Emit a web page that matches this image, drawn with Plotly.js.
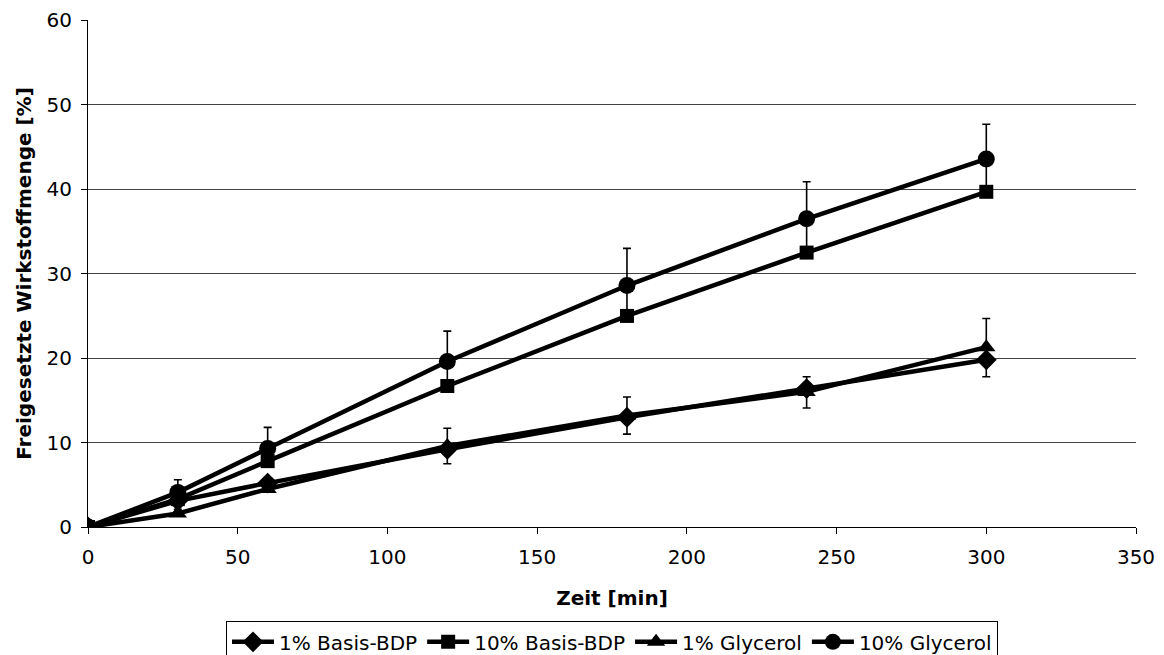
<!DOCTYPE html>
<html>
<head>
<meta charset="utf-8">
<script src="https://cdn.plot.ly/plotly-3.0.1.min.js"></script>
<style>html,body{margin:0;padding:0;background:#fff;}#chart{width:1164px;height:655px;}</style>
</head>
<body>
<div id="chart"></div>
<script>
// Data
const zeit = [0, 30, 60, 120, 180, 240, 300];
const seriesNames = ["1% Basis-BDP", "10% Basis-BDP", "1% Glycerol", "10% Glycerol"];
const basis1 = [0, 3.1, 5.2, 9.2, 13.0, 16.4, 19.8];
const basis1ErrMinus = [0, 0.5, 0.6, 1.7, 2.0, 2.3, 2.0];
const basis10 = [0, 3.3, 7.8, 16.7, 25.0, 32.5, 39.7];
const basis10ErrPlus = [0, 0.8, 1.5, 2.9, 3.6, 4.0, 3.9];
const glycerol1 = [0, 1.6, 4.5, 9.6, 13.2, 16.0, 21.3];
const glycerol1ErrPlus = [0, 0.5, 0.6, 2.1, 2.2, 1.8, 3.4];
const glycerol10 = [0, 4.1, 9.3, 19.6, 28.6, 36.5, 43.6];
const glycerol10ErrPlus = [0, 1.5, 2.5, 3.6, 4.4, 4.4, 4.1];
const xTicks = [0, 50, 100, 150, 200, 250, 300, 350];
const yTicks = [0, 10, 20, 30, 40, 50, 60];

const FONT = "DejaVu Sans, Verdana, sans-serif";
const FS = 20;
const errStyle = {color: "#000", thickness: 1.6, width: 4};
const lineStyle = {color: "#000", width: 4.5};

function zeros(n){ return new Array(n).fill(0); }

const traces = [
  {x: zeit, y: basis1, name: seriesNames[0], mode: "lines+markers", line: lineStyle,
   marker: {symbol: "diamond", size: 16, color: "#000"},
   error_y: Object.assign({type: "data", symmetric: false, array: zeros(zeit.length), arrayminus: basis1ErrMinus, visible: true}, errStyle)},
  {x: zeit, y: basis10, name: seriesNames[1], mode: "lines+markers", line: lineStyle,
   marker: {symbol: "square", size: 14, color: "#000"},
   error_y: Object.assign({type: "data", symmetric: false, array: basis10ErrPlus, arrayminus: zeros(zeit.length), visible: true}, errStyle)},
  {x: zeit, y: glycerol1, name: seriesNames[2], mode: "lines+markers", line: lineStyle,
   marker: {symbol: "triangle-up", size: 16, color: "#000"},
   error_y: Object.assign({type: "data", symmetric: false, array: glycerol1ErrPlus, arrayminus: zeros(zeit.length), visible: true}, errStyle)},
  {x: zeit, y: glycerol10, name: seriesNames[3], mode: "lines+markers", line: lineStyle,
   marker: {symbol: "circle", size: 17, color: "#000"},
   error_y: Object.assign({type: "data", symmetric: false, array: glycerol10ErrPlus, arrayminus: zeros(zeit.length), visible: true}, errStyle)}
];

const layout = {
  width: 1164, height: 655,
  margin: {l: 88, r: 28, t: 20, b: 128, autoexpand: false},
  paper_bgcolor: "#fff", plot_bgcolor: "#fff",
  font: {family: FONT, size: FS, color: "#000"},
  showlegend: true,
  legend: {orientation: "h", x: 0.5, xanchor: "center", y: -0.186, yanchor: "top",
           bordercolor: "#000", borderwidth: 1, font: {family: FONT, size: FS, color: "#000"},
           itemwidth: 42, tracegroupgap: 0, traceorder: "normal"},
  xaxis: {range: [0, 350], tickvals: xTicks, ticktext: xTicks.map(String),
          showgrid: false, zeroline: false, showline: true, linecolor: "#000", linewidth: 1,
          ticks: "outside", ticklen: 6, tickcolor: "#000", ticklabelstandoff: 6,
          tickfont: {family: FONT, size: FS},
          title: {text: "<b>Zeit [min]</b>", font: {family: FONT, size: FS}, standoff: 22}},
  yaxis: {range: [0, 60.05], tickvals: yTicks, ticktext: yTicks.map(String),
          showgrid: true, gridcolor: "#444", gridwidth: 1,
          zeroline: false, showline: true, linecolor: "#000", linewidth: 1,
          ticks: "outside", ticklen: 6, tickcolor: "#000", ticklabelstandoff: 5,
          tickfont: {family: FONT, size: FS},
          title: {text: "<b>Freigesetzte Wirkstoffmenge [%]</b>", font: {family: FONT, size: FS}, standoff: 9}}
};

Plotly.newPlot("chart", traces, layout, {displayModeBar: false, staticPlot: true});
</script>
</body>
</html>
